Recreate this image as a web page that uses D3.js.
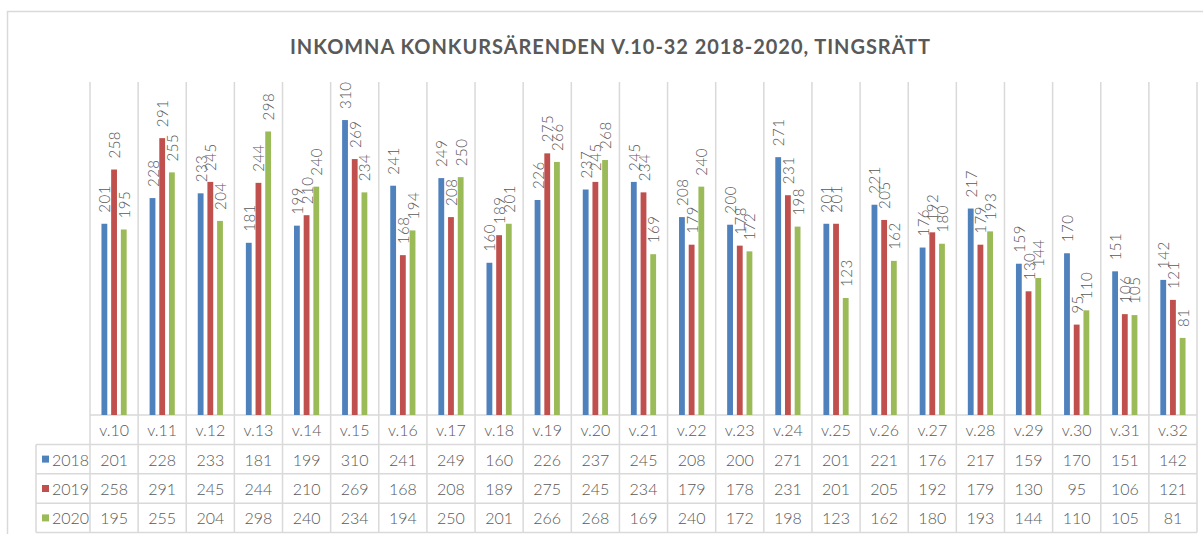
<!DOCTYPE html>
<html>
<head>
<meta charset="utf-8">
<script src="https://cdn.jsdelivr.net/npm/d3@7"></script>
<style>
  body { margin: 0; background: #fff; }
  svg { display: block; }
  text { font-family: Lato, "Open Sans", sans-serif; fill: #595959; }
  .light { font-weight: 300; }
</style>
</head>
<body>
<svg id="viz" width="1203" height="534"></svg>
<script>
var width = 1203, height = 534

var weeks = ['v.10','v.11','v.12','v.13','v.14','v.15','v.16','v.17','v.18','v.19','v.20',
  'v.21','v.22','v.23','v.24','v.25','v.26','v.27','v.28','v.29','v.30','v.31','v.32']
var years = ['2018', '2019', '2020']
var values2018 = [201,228,233,181,199,310,241,249,160,226,237,245,208,200,271,201,221,176,217,159,170,151,142]
var values2019 = [258,291,245,244,210,269,168,208,189,275,245,234,179,178,231,201,205,192,179,130,95,106,121]
var values2020 = [195,255,204,298,240,234,194,250,201,266,268,169,240,172,198,123,162,180,193,144,110,105,81]
var colors = ['#4F81BD', '#C0504D', '#9BBB59']

var series = [values2018, values2019, values2020]

var plotLeft = 90, plotRight = 1197, plotTop = 82, baseY = 415
var rowH = 29.4
var legendLeft = 36
var gridColor = '#d9d9d9'

var svg = d3.select('svg#viz')

// outer frame
svg.append('path')
  .attr('d', 'M7.5,' + height + ' L7.5,11.5 L' + width + ',11.5')
  .attr('fill', 'none').attr('stroke', gridColor).attr('stroke-width', 1.5)

// title
svg.append('text')
  .attr('x', 290).attr('y', 54)
  .attr('textLength', 640).attr('lengthAdjust', 'spacing')
  .style('font-size', '20px').style('font-weight', 'bold')
  .text('INKOMNA KONKURSÄRENDEN V.10-32 2018-2020, TINGSRÄTT')

var x0 = d3.scaleBand().domain(weeks).range([plotLeft, plotRight])
var groupW = 25.2
var x1 = d3.scaleBand().domain(years).range([0, groupW]).paddingInner(0.4)
var y = d3.scaleLinear().domain([0, 350]).range([baseY, plotTop])

var tableBottom = baseY + rowH * 4

// vertical gridlines / table columns
var bounds = weeks.map(function(w) { return x0(w) }).concat([plotRight])
svg.append('g').selectAll('line')
  .data(bounds)
  .enter().append('line')
  .attr('x1', function(d) { return d }).attr('x2', function(d) { return d })
  .attr('y1', plotTop).attr('y2', tableBottom)
  .attr('stroke', gridColor).attr('stroke-width', 1.5)

// horizontal table lines
var hLines = [0, 1, 2, 3, 4]
svg.append('g').selectAll('line')
  .data(hLines)
  .enter().append('line')
  .attr('x1', function(d) { return d < 1 ? plotLeft : legendLeft })
  .attr('x2', plotRight)
  .attr('y1', function(d) { return baseY + d * rowH })
  .attr('y2', function(d) { return baseY + d * rowH })
  .attr('stroke', gridColor).attr('stroke-width', 1.5)

svg.append('line')
  .attr('x1', legendLeft).attr('x2', legendLeft)
  .attr('y1', baseY + rowH).attr('y2', tableBottom)
  .attr('stroke', gridColor).attr('stroke-width', 1.5)

// bars + labels
var offset = (x0.bandwidth() - groupW) / 2
years.forEach(function(yr, i) {
  var g = svg.append('g')
  var vals = series[i]
  g.selectAll('rect')
    .data(vals)
    .enter().append('rect')
    .attr('x', function(d, j) { return x0(weeks[j]) + offset + x1(yr) })
    .attr('width', x1.bandwidth())
    .attr('y', function(d) { return y(d) })
    .attr('height', function(d) { return baseY - y(d) })
    .attr('fill', colors[i])

  g.selectAll('text')
    .data(vals)
    .enter().append('text')
    .attr('class', 'light')
    .attr('transform', function(d, j) {
      var cx = x0(weeks[j]) + offset + x1(yr) + x1.bandwidth() / 2
      return 'translate(' + cx + ',' + (y(d) - 11) + ') rotate(-90)'
    })
    .attr('dominant-baseline', 'central')
    .style('font-size', '15px')
    .style('letter-spacing', '0.5px')
    .text(function(d) { return d })
})

// table: category labels
svg.append('g').selectAll('text')
  .data(weeks)
  .enter().append('text')
  .attr('class', 'light')
  .attr('x', function(d) { return x0(d) + x0.bandwidth() / 2 })
  .attr('y', baseY + rowH / 2)
  .attr('text-anchor', 'middle').attr('dominant-baseline', 'central')
  .style('font-size', '16px')
  .text(function(d) { return d })

// table: value rows
years.forEach(function(yr, i) {
  var rowY = baseY + rowH * (i + 1.5)
  svg.append('g').selectAll('text')
    .data(series[i])
    .enter().append('text')
    .attr('class', 'light')
    .attr('x', function(d, j) { return x0(weeks[j]) + x0.bandwidth() / 2 })
    .attr('y', rowY)
    .attr('text-anchor', 'middle').attr('dominant-baseline', 'central')
    .style('font-size', '16px')
    .text(function(d) { return d })

  svg.append('rect')
    .attr('x', 42).attr('y', rowY - 3.5)
    .attr('width', 7).attr('height', 7)
    .attr('fill', colors[i])

  svg.append('text')
    .attr('class', 'light')
    .attr('x', 52).attr('y', rowY)
    .attr('dominant-baseline', 'central')
    .style('font-size', '16px')
    .text(yr)
})
</script>
</body>
</html>
